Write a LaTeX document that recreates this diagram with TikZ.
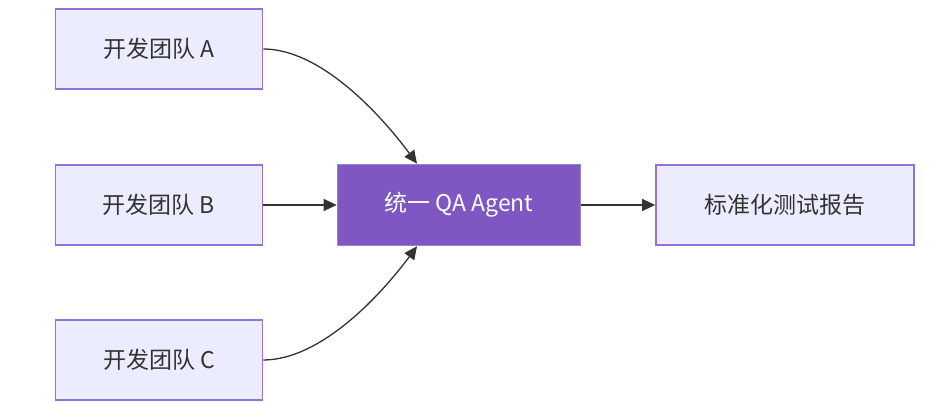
\documentclass[tikz,border=0pt]{standalone}
\usepackage{fontspec}
\setmainfont{Noto Sans CJK SC}
\usetikzlibrary{arrows.meta}
\definecolor{boxfill}{HTML}{ECECFF}
\definecolor{boxline}{HTML}{9370DB}
\definecolor{agentfill}{HTML}{7E57C2}
\definecolor{agentline}{HTML}{9C7FD6}
\definecolor{txt}{HTML}{333333}

\begin{document}
\begin{tikzpicture}[x=1pt,y=-1pt,
  team/.style={draw=boxline,fill=boxfill,line width=1.6pt,minimum width=207pt,minimum height=80pt,text=txt,font=\fontsize{23}{27}\selectfont,inner sep=0pt},
  agent/.style={team,draw=agentline,fill=agentfill,text=white,minimum width=243pt,minimum height=81pt},
  arr/.style={draw=txt,line width=1.3pt,-{Triangle[length=13pt,width=12pt]}}]
\useasboundingbox (0,0) rectangle (929,403);
\node[team] (devA) at (159,49) {开发团队 A};
\node[team] (devB) at (159,205) {开发团队 B};
\node[team] (devC) at (159,360) {开发团队 C};
\node[agent] (qa) at (459,205) {统一 QA Agent};
\node[team,minimum width=258pt] (report) at (785,205) {标准化测试报告};
% edges
\draw[arr] (devA.east) .. controls +(57,0) and +(-37,-50) .. ([xshift=-42pt]qa.north);
\draw[arr] (devB) -- (qa);
\draw[arr] (devC.east) .. controls +(57,0) and +(-37,50) .. ([xshift=-42pt]qa.south);
\draw[arr] (qa) -- (report);
\end{tikzpicture}
\end{document}
